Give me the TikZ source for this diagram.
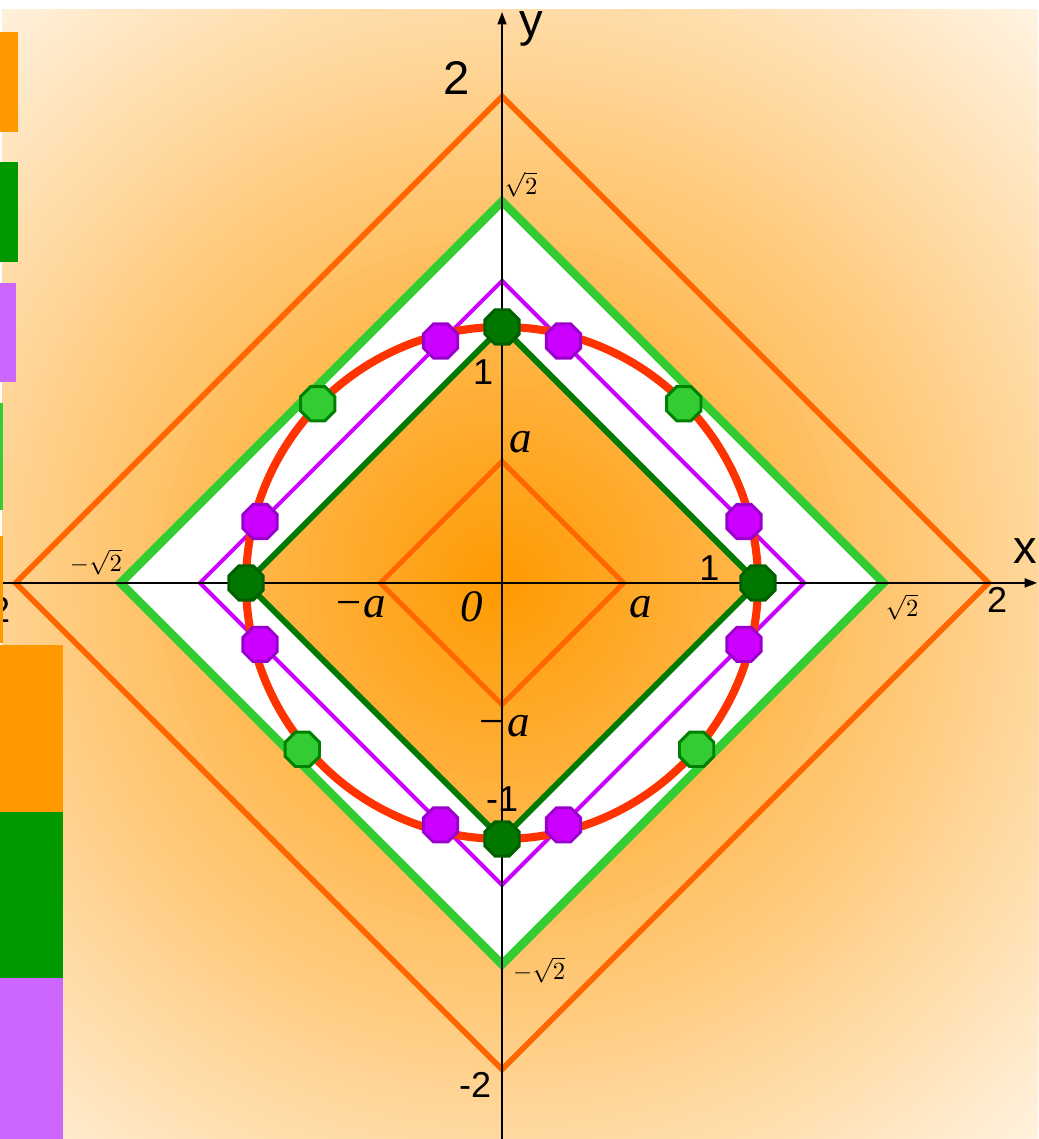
\documentclass[tikz,border=0pt]{standalone}
\usepackage{fontspec}
\setmainfont{Liberation Serif}
\newfontfamily\axisfont{Liberation Sans}
\usetikzlibrary{shapes.geometric,arrows.meta}
\definecolor{bgcore}{RGB}{255,153,0}
\definecolor{bgedge}{RGB}{255,243,226}
\definecolor{lineorange}{RGB}{255,102,0}
\definecolor{linelight}{RGB}{51,204,51}
\definecolor{lineviolet}{RGB}{204,0,255}
\definecolor{linedark}{RGB}{0,122,0}
\definecolor{circred}{RGB}{255,51,0}
\definecolor{ptdark}{RGB}{0,120,0}
\definecolor{ptdarkrim}{RGB}{0,96,0}
\definecolor{ptlight}{RGB}{51,204,51}
\definecolor{ptlightrim}{RGB}{0,128,0}
\definecolor{ptviolet}{RGB}{204,0,255}
\definecolor{ptvioletrim}{RGB}{153,0,204}
\definecolor{barorange}{RGB}{255,153,0}
\definecolor{bargreen}{RGB}{0,153,0}
\definecolor{barviolet}{RGB}{204,102,255}

\begin{document}
\begin{tikzpicture}[x=4cm,y=4cm,
  axis/.style={black,line width=0.7pt},
  oct/.style={regular polygon,regular polygon sides=8,minimum size=0.58cm,inner sep=0pt,line width=1.3pt},
  octdark/.style={oct,fill=ptdark,draw=ptdarkrim},
  octlight/.style={oct,fill=ptlight,draw=ptlightrim},
  octviolet/.style={oct,fill=ptviolet,draw=ptvioletrim},
  numlbl/.style={inner sep=0pt,font=\axisfont\fontsize{16}{16}\selectfont},
  biglbl/.style={inner sep=0pt,font=\axisfont\fontsize{21}{21}\selectfont},
  letlbl/.style={inner sep=0pt,font=\fontsize{20}{20}\selectfont\itshape},
  rootlbl/.style={inner sep=0pt,font=\fontsize{11}{11}\selectfont}]
\useasboundingbox (-1.961,-2.172) rectangle (2.094,2.277);
\coordinate (O) at (0,0);
\begin{scope}
  \clip (-1.953,-2.172) rectangle (2.094,2.238);
  \foreach \k in {80,79,...,1}{
    \pgfmathsetmacro\pct{100*\k/80}
    \fill[bgedge!\pct!bgcore] (O) circle ({3.07*\k/80});
  }
\end{scope}

\fill[white,even odd rule] (1.49,0) -- (0,1.49) -- (-1.49,0) -- (0,-1.49) -- cycle
  (1,0) -- (0,1) -- (-1,0) -- (0,-1) -- cycle;

\foreach \r/\col/\w in {1.9/lineorange/2.5pt, 0.475/lineorange/2.2pt, 1.49/linelight/3.8pt,
  1.18/lineviolet/1.8pt, 1/linedark/2.6pt}
  \draw[\col,line width=\w] (\r,0) -- (0,\r) -- (-\r,0) -- (0,-\r) -- cycle;
\draw[circred,line width=3.6pt] (O) circle (1);

\draw[axis,-{Triangle[length=5.5pt,width=4pt]}] (-1.961,0) -- (2.09,0);
\draw[axis,-{Triangle[length=5.5pt,width=4pt]}] (0,-2.172) -- (0,2.23);

\foreach \p [count=\i] in {(1,0),(0,1),(-1,0),(0,-1)}
  \node[octdark] (d\i) at \p {};
\foreach \p [count=\i] in {(0.71,0.70),(-0.72,0.70),(-0.78,-0.65),(0.76,-0.65)}
  \node[octlight] (l\i) at \p {};
\foreach \p [count=\i] in {(0.945,0.24),(0.24,0.945),(-0.24,0.945),(-0.945,0.24),
  (-0.945,-0.24),(-0.24,-0.945),(0.24,-0.945),(0.945,-0.24)}
  \node[octviolet] (v\i) at \p {};

\node[biglbl] (ylbl) at (0.113,2.165) {y};
\node[biglbl] (xlbl) at (2.045,0.125) {x};
\node[biglbl] (ytwo) at (-0.176,1.973) {2};
\node[numlbl] (yone) at (-0.074,0.824) {1};
\node[numlbl] (ymone) at (0,-0.844) {-1};
\node[numlbl] (ymtwo) at (-0.105,-1.961) {-2};
\node[numlbl] (xone) at (0.81,0.059) {1};
\node[numlbl] (xtwo) at (1.934,-0.066) {2};
\node[numlbl] (xmtwo) at (-1.984,-0.105) {-2};

\node[rootlbl] (rtop) at (0.074,1.555) {$\sqrt{2}$};
\node[rootlbl] (rright) at (1.5625,-0.094) {$\sqrt{2}$};
\node[rootlbl] (rleft) at (-1.586,0.082) {$-\sqrt{2}$};
\node[rootlbl] (rbot) at (0.145,-1.512) {$-\sqrt{2}$};

\node[letlbl] (amleft) at (-0.555,-0.094) {−a};
\node[letlbl] (zero) at (-0.117,-0.094) {0};
\node[letlbl] (aright) at (0.543,-0.094) {a};
\node[letlbl] (atop) at (0.074,0.551) {a};
\node[letlbl] (ambot) at (0.004,-0.559) {−a};

\fill[barorange] (-1.961,2.152) rectangle (-1.891,1.762);
\fill[bargreen] (-1.961,1.645) rectangle (-1.891,1.254);
\fill[barviolet] (-1.961,1.172) rectangle (-1.898,0.785);
\fill[linelight] (-1.961,0.703) rectangle (-1.949,0.285);
\fill[barorange] (-1.961,0.184) rectangle (-1.949,-0.234);
\fill[barorange] (-1.961,-0.242) rectangle (-1.715,-0.895);
\fill[bargreen] (-1.961,-0.895) rectangle (-1.715,-1.543);
\fill[barviolet] (-1.961,-1.543) rectangle (-1.715,-2.172);
\end{tikzpicture}
\end{document}
